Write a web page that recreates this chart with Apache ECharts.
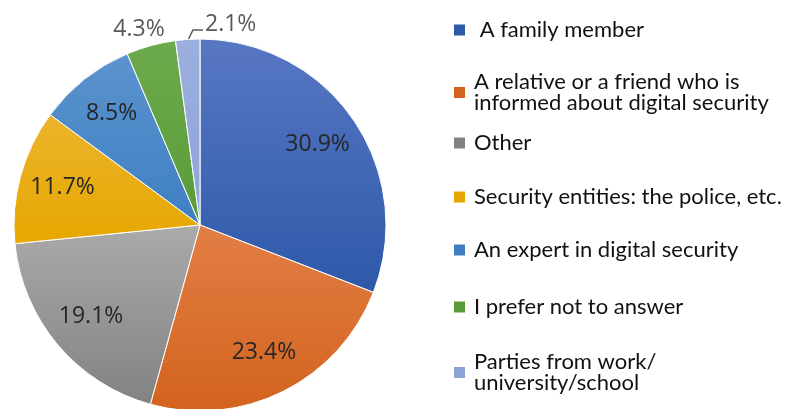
<!DOCTYPE html>
<html>
<head>
<meta charset="utf-8">
<script src="https://cdn.jsdelivr.net/npm/echarts@6/dist/echarts.min.js"></script>
<style>
  html, body { margin: 0; padding: 0; background: #fff; }
  #chart { width: 786px; height: 409px; }
</style>
</head>
<body>
<div id="chart"></div>
<script>
const categories = [
  'A family member',
  'A relative or a friend who is\ninformed about digital security',
  'Other',
  'Security entities: the police, etc.',
  'An expert in digital security',
  'I prefer not to answer',
  'Parties from work/\nuniversity/school'
]
const shares = [30.9, 23.4, 19.1, 11.7, 8.5, 4.3, 2.1]

// light top / dark bottom, like the office-style shaded slices
const colors = [
  ['#5877c3', '#2d59a9'],
  ['#e27e45', '#d3631e'],
  ['#aaaaaa', '#828282'],
  ['#ebb42b', '#e6a700'],
  ['#5b94ce', '#3e7fc3'],
  ['#6daa4d', '#599b38'],
  ['#9cafdf', '#8da3d7']
]
const legendTops = [19, 71, 132, 186, 239, 296, 351]
const outsideIdx = [5, 6]

const fill = (c) => ({
  type: 'linear', x: 0, y: 0, x2: 0, y2: 1,
  colorStops: [{ offset: 0, color: c[0] }, { offset: 1, color: c[1] }]
})

const chart = echarts.init(document.getElementById('chart'))

const pieData = categories.map((name, i) => ({
  name,
  value: shares[i],
  itemStyle: { color: fill(colors[i]) },
  label: { show: outsideIdx.includes(i) },
  labelLine: { show: i === 6 }
}))

const ringData = categories.map((name, i) => ({
  name,
  value: shares[i],
  label: { show: !outsideIdx.includes(i) }
}))

chart.setOption({
  animation: false,
  legend: categories.map((name, i) => ({
    data: [{ name, itemStyle: { color: colors[i][1] } }],
    orient: 'vertical',
    left: 452,
    top: legendTops[i],
    padding: 0,
    itemWidth: 13,
    itemHeight: 13,
    icon: 'rect',
    selectedMode: false,
    formatter: (n) => (i === 0 ? ' ' + n : n),
    textStyle: {
      fontFamily: 'Lato',
      fontSize: 22,
      lineHeight: 21,
      color: '#111',
      padding: [0, 0, 0, 3]
    }
  })),
  series: [
    {
      type: 'pie',
      center: [200, 225],
      radius: 186,
      startAngle: 90,
      avoidLabelOverlap: false,
      silent: true,
      itemStyle: { borderColor: '#fff', borderWidth: 1 },
      label: {
        position: 'outside',
        formatter: (p) => p.value.toFixed(1) + '%',
        fontFamily: 'Open Sans',
        fontSize: 23,
        color: '#595959'
      },
      labelLine: { lineStyle: { color: '#595959', width: 1.5 }, length: 8, length2: 10 },
      labelLayout: (p) => {
        if (p.dataIndex === 5) {
          return { x: 139, y: 29, align: 'center', verticalAlign: 'middle' }
        }
        if (p.dataIndex === 6) {
          return {
            x: 205, y: 24, align: 'left', verticalAlign: 'middle',
            labelLinePoints: [[188, 40], [193, 30], [203, 30]]
          }
        }
      },
      data: pieData
    },
    {
      type: 'pie',
      center: [200, 225],
      radius: [93, 186],
      startAngle: 90,
      silent: true,
      avoidLabelOverlap: false,
      itemStyle: { color: 'rgba(0,0,0,0)' },
      label: {
        position: 'inside',
        formatter: (p) => p.value.toFixed(1) + '%',
        fontFamily: 'Open Sans',
        fontSize: 23,
        color: '#262626'
      },
      labelLine: { show: false },
      data: ringData
    }
  ]
})
</script>
</body>
</html>
